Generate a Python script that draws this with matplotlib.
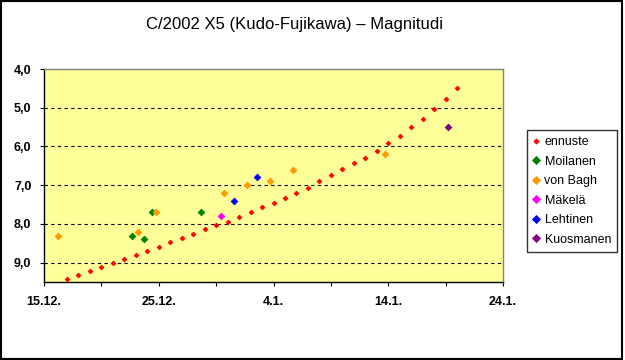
import matplotlib
matplotlib.use("Agg")
import matplotlib.pyplot as plt
from matplotlib.patches import Rectangle

# päivät laskettu 15.12.2002 alkaen
ennuste_pv = list(range(2, 37))
ennuste_mag = [9.43, 9.33, 9.22, 9.12, 9.02, 8.91, 8.81, 8.71, 8.60, 8.48,
               8.37, 8.27, 8.14, 8.04, 7.94, 7.81, 7.68, 7.57, 7.45, 7.32,
               7.19, 7.06, 6.90, 6.75, 6.59, 6.44, 6.29, 6.11, 5.90, 5.72,
               5.49, 5.28, 5.02, 4.77, 4.48]

moilanen_pv = [7.64, 8.69, 9.38, 13.65]
moilanen_mag = [8.3, 8.4, 7.7, 7.7]

vonbagh_pv = [1.22, 8.16, 9.73, 15.66, 17.66, 19.66, 21.67, 29.7]
vonbagh_mag = [8.3, 8.2, 7.7, 7.2, 7.0, 6.9, 6.6, 6.2]

makela_pv = [15.4]
makela_mag = [7.8]

lehtinen_pv = [16.6, 18.6]
lehtinen_mag = [7.4, 6.8]

kuosmanen_pv = [35.2]
kuosmanen_mag = [5.5]

x_ticks = [0, 10, 20, 30, 40]
x_labels = ["15.12.", "25.12.", "4.1.", "14.1.", "24.1."]
y_ticks = [4, 5, 6, 7, 8, 9]
y_labels = ["4,0", "5,0", "6,0", "7,0", "8,0", "9,0"]

plt.rcParams['font.family'] = ['Liberation Sans', 'DejaVu Sans']

fig = plt.figure(figsize=(6.25, 3.6), dpi=100)
ax = fig.add_axes([44 / 625, 1 - 282 / 360, 459 / 625, 213 / 360])
ax.set_facecolor('#FFFF99')

# pienet vinoneliöt kuten Excelissä
ms_pieni = 2.4
ms_iso = 3.4
ax.plot(ennuste_pv, ennuste_mag, 'D', color='#FF0000', markersize=ms_pieni, mew=0.6, label='ennuste', linestyle='none', zorder=3)
ax.plot(moilanen_pv, moilanen_mag, 'D', color='#008000', markersize=ms_iso, mew=0.6, label='Moilanen', linestyle='none', zorder=3)
ax.plot(vonbagh_pv, vonbagh_mag, 'D', color='#FF9900', markersize=ms_iso, mew=0.6, label='von Bagh', linestyle='none', zorder=3)
ax.plot(makela_pv, makela_mag, 'D', color='#FF00FF', markersize=ms_iso, mew=0.6, label='Mäkelä', linestyle='none', zorder=3)
ax.plot(lehtinen_pv, lehtinen_mag, 'D', color='#0000FF', markersize=ms_iso, mew=0.6, label='Lehtinen', linestyle='none', zorder=3)
ax.plot(kuosmanen_pv, kuosmanen_mag, 'D', color='#800080', markersize=ms_iso, mew=0.6, label='Kuosmanen', linestyle='none', zorder=3)

ax.set_xlim(0, 40)
ax.set_ylim(9.5, 4.0)
ax.set_xticks(x_ticks)
ax.set_xticklabels(x_labels, fontweight='bold', fontsize=9)
ax.set_xticks([5, 15, 25, 35], minor=True)
ax.set_yticks(y_ticks)
ax.set_yticklabels(y_labels, fontweight='bold', fontsize=9)
ax.tick_params(axis='both', which='both', direction='out', length=3, width=0.8, color='black')
ax.tick_params(axis='x', pad=7)
ax.tick_params(axis='y', pad=6)

for y in y_ticks[1:]:
    ax.axhline(y, color='black', linestyle=(0, (3, 3)), linewidth=0.8, zorder=1)

ax.spines['left'].set_color('black')
ax.spines['bottom'].set_color('black')
ax.spines['top'].set_color('#808080')
ax.spines['right'].set_color('#808080')
for s in ax.spines.values():
    s.set_linewidth(1)

fig.text(295 / 625, 1 - 25 / 360, 'C/2002 X5 (Kudo-Fujikawa) – Magnitudi',
         ha='center', va='center', fontsize=12)

leg = fig.legend(loc='upper left', bbox_to_anchor=(527 / 625, 1 - 130 / 360),
                 fontsize=9, frameon=True, fancybox=False, edgecolor='black',
                 handlelength=0.5, handletextpad=0.4, labelspacing=0.6,
                 borderpad=0.5, borderaxespad=0, markerscale=1.1)
leg.get_frame().set_linewidth(1)

fig.patches.append(Rectangle((0.5 / 625, 1.5 / 360), 621.5 / 625, 357.5 / 360,
                             transform=fig.transFigure, fill=False,
                             edgecolor='black', linewidth=1.5))

fig.savefig('out.png', dpi=100)
